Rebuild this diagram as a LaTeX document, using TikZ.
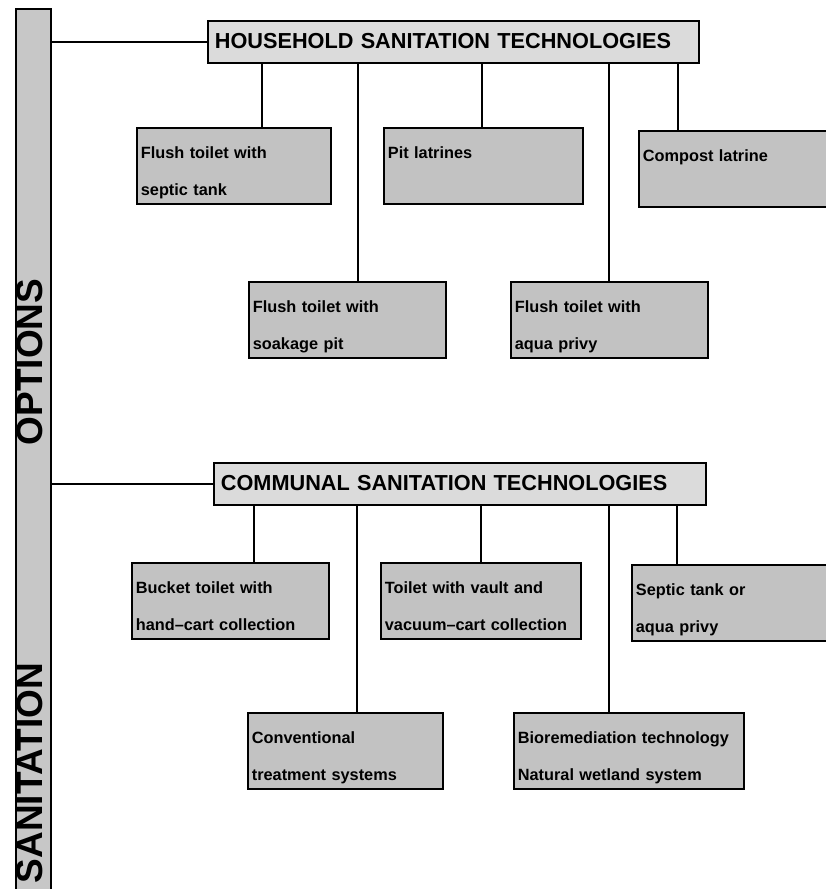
\documentclass[tikz,border=0pt]{standalone}
\usepackage{fontspec}
\setmainfont{Liberation Sans}
\tikzset{
  optbox/.style={draw, line width=1.8pt, fill=black!24, anchor=north west,
    inner xsep=4pt, inner ysep=0pt, text width=#1, align=left,
    text height=31pt, text depth=45pt, font=\fontsize{16.3}{37}\selectfont\bfseries},
  headbox/.style={draw, line width=1.8pt, fill=black!14, anchor=north west,
    inner xsep=7pt, inner ysep=0pt, text width=#1, align=left,
    text height=28pt, text depth=14pt, font=\fontsize{21.7}{26}\selectfont\bfseries},
  sidetext/.style={rotate=90, anchor=base, font=\fontsize{37}{40}\selectfont\bfseries},
  link/.style={line width=2.4pt}
}
\begin{document}
\begin{tikzpicture}[x=1pt,y=-1pt]
    \useasboundingbox (0,0) rectangle (826,889);
    
    \node[draw, line width=1.8pt, fill=black!22, anchor=north west, minimum width=35pt, minimum height=900pt, inner sep=0pt] (bar) at (15,8) {};
    \node[sidetext] (opt) at (42,362) {OPTIONS};
    \node[sidetext] (san) at (42,773) {SANITATION};
    
    % household
    \node[headbox=477pt] (hh) at (207,20) {HOUSEHOLD SANITATION TECHNOLOGIES};
    \node[optbox=186pt] (sep) at (136,127) {Flush toilet with\\septic tank};
    \node[optbox=191pt] (pit) at (383,127) {Pit latrines};
    \node[optbox=192pt] (com) at (638,130) {Compost latrine};
    \node[optbox=189pt] (soak) at (248,281) {Flush toilet with\\soakage pit};
    \node[optbox=189pt] (aqua) at (510,281) {Flush toilet with\\aqua privy};
    
    \draw[link] (hh.west -| bar.east) -- (hh.west);
    \foreach \kx/\b in {262/sep,482/pit,678/com,358/soak,609/aqua}{
        \coordinate (k) at (\kx,0);
        \draw[link] (hh.south -| k) -- (\b.north -| k);
    }
    
    % communal
    \node[headbox=478pt] (cc) at (213,462) {COMMUNAL SANITATION TECHNOLOGIES};
    \node[optbox=189pt] (buck) at (131,562) {Bucket toilet with\\hand--cart collection};
    \node[optbox=192pt] (vault) at (380,562) {Toilet with vault and\\vacuum--cart collection};
    \node[optbox=192pt] (sapr) at (631,564) {Septic tank or\\aqua privy};
    \node[optbox=187pt] (conv) at (247,712) {Conventional\\treatment systems};
    \node[optbox=222pt] (bio) at (513,712) {Bioremediation technology\\Natural wetland system};
    
    \draw[link] (cc.west -| bar.east) -- (cc.west);
    \foreach \kx/\b in {254/buck,481/vault,677/sapr,357/conv,609/bio}{
        \coordinate (k) at (\kx,0);
        \draw[link] (cc.south -| k) -- (\b.north -| k);
    }
\end{tikzpicture}
\end{document}
